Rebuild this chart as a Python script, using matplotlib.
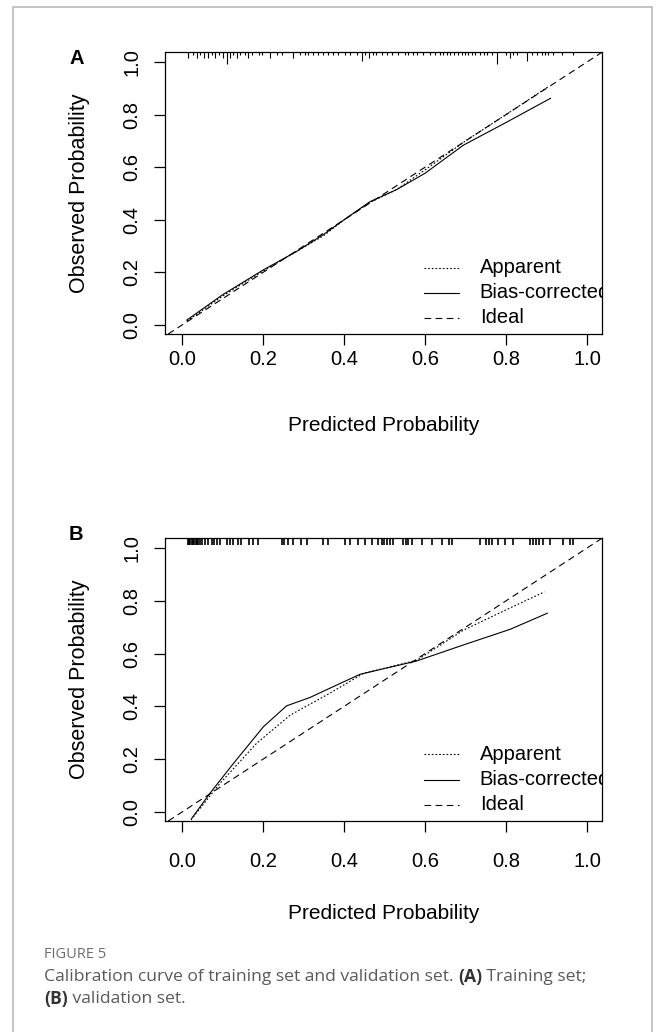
import matplotlib
matplotlib.use("Agg")
import matplotlib.pyplot as plt
from matplotlib.transforms import blended_transform_factory
from matplotlib.patches import Rectangle

plt.rcParams['font.family'] = ['Liberation Sans', 'DejaVu Sans']

# calibration curves, training set (A)
train_app_x = [0.012, 0.10, 0.20, 0.283, 0.35, 0.40, 0.464, 0.53, 0.60, 0.70, 0.80, 0.904]
train_app_y = [0.015, 0.11, 0.205, 0.280, 0.34, 0.40, 0.466, 0.515, 0.59, 0.70, 0.80, 0.906]
train_bc_x = [0.012, 0.10, 0.20, 0.283, 0.35, 0.40, 0.464, 0.53, 0.60, 0.695, 0.80, 0.91]
train_bc_y = [0.019, 0.115, 0.209, 0.280, 0.345, 0.40, 0.469, 0.515, 0.577, 0.684, 0.77, 0.862]

# calibration curves, validation set (B)
valid_app_x = [0.022, 0.094, 0.184, 0.267, 0.365, 0.448, 0.58, 0.695, 0.81, 0.895]
valid_app_y = [-0.03, 0.109, 0.26, 0.367, 0.45, 0.525, 0.575, 0.689, 0.773, 0.834]
valid_bc_x = [0.024, 0.069, 0.127, 0.201, 0.258, 0.316, 0.382, 0.44, 0.579, 0.695, 0.81, 0.902]
valid_bc_y = [-0.024, 0.071, 0.184, 0.323, 0.402, 0.434, 0.481, 0.522, 0.572, 0.633, 0.692, 0.753]

ideal_x = [0, 1]
ideal_y = [0, 1]

# distribution of predicted values (rug on top axis) with frequencies
rug_a_x = [0.016, 0.026, 0.036, 0.044, 0.055, 0.065, 0.073, 0.081, 0.091, 0.100,
           0.110, 0.119, 0.127, 0.135, 0.143, 0.156, 0.164, 0.174, 0.189, 0.197,
           0.217, 0.234, 0.246, 0.275, 0.291, 0.304, 0.312, 0.324, 0.337, 0.349,
           0.361, 0.374, 0.386, 0.402, 0.415, 0.431, 0.444, 0.452, 0.462, 0.472,
           0.478, 0.493, 0.505, 0.518, 0.534, 0.551, 0.559, 0.571, 0.579, 0.596,
           0.612, 0.625, 0.637, 0.645, 0.654, 0.662, 0.672, 0.682, 0.691, 0.699,
           0.707, 0.715, 0.723, 0.736, 0.746, 0.752, 0.765, 0.777, 0.800, 0.810,
           0.818, 0.826, 0.851, 0.863, 0.876, 0.888, 0.896, 0.904, 0.917, 0.938, 0.966]
rug_a_n = [2, 1, 2, 1, 2, 2, 1, 2, 1, 2,
           4, 2, 1, 2, 1, 1, 2, 1, 1, 1,
           2, 1, 1, 2, 1, 1, 1, 1, 1, 1,
           1, 1, 1, 1, 1, 1, 3, 1, 2, 1,
           1, 1, 1, 1, 1, 1, 1, 1, 1, 1,
           1, 1, 1, 1, 1, 1, 1, 1, 1, 1,
           1, 1, 1, 1, 1, 1, 1, 4, 1, 2,
           1, 1, 3, 1, 1, 1, 1, 1, 1, 1, 1]

rug_b_x = [0.014, 0.017, 0.020, 0.024, 0.027, 0.030, 0.034, 0.037, 0.040, 0.044,
           0.050, 0.057, 0.063, 0.073, 0.080, 0.086, 0.094, 0.110, 0.118, 0.127,
           0.139, 0.146, 0.165, 0.176, 0.187, 0.246, 0.253, 0.261, 0.275, 0.295,
           0.308, 0.349, 0.361, 0.402, 0.415, 0.435, 0.452, 0.468, 0.485, 0.493,
           0.499, 0.505, 0.514, 0.520, 0.546, 0.553, 0.559, 0.567, 0.592, 0.617,
           0.641, 0.658, 0.666, 0.736, 0.751, 0.759, 0.765, 0.781, 0.798, 0.818,
           0.859, 0.867, 0.874, 0.882, 0.892, 0.909, 0.941, 0.958, 0.966]

ticks = [0.0, 0.2, 0.4, 0.6, 0.8, 1.0]
tick_labels = ['0.0', '0.2', '0.4', '0.6', '0.8', '1.0']
legend_labels = ['Apparent', 'Bias-corrected', 'Ideal']

W, H = 658, 1032


def box(left, top, right, bottom):
    return [left / W, 1 - bottom / H, (right - left) / W, (bottom - top) / H]


DOT = (0, (1.5, 1.8))
DASH = (0, (6.0, 4.0))


def calib_panel(ax, app_x, app_y, bc_x, bc_y, rug_x, rug_len, rug_lw,
                xpad, xlabelpad):
    ax.axline((ideal_x[0], ideal_y[0]), (ideal_x[1], ideal_y[1]),
              color='black', lw=0.8, linestyle=DASH)
    ax.plot(app_x, app_y, color='black', lw=0.8, linestyle=DOT)
    ax.plot(bc_x, bc_y, color='black', lw=0.8)

    trans = blended_transform_factory(ax.transData, ax.transAxes)
    ax.vlines(rug_x, [1 - l for l in rug_len], 1, transform=trans,
              color='black', lw=rug_lw)

    ax.set_xlim(-0.042, 1.037)
    ax.set_ylim(-0.034, 1.038)
    ax.set_xticks(ticks)
    ax.set_xticklabels(tick_labels)
    ax.set_yticks(ticks)
    ax.set_yticklabels(tick_labels, rotation=90, va='center')
    ax.tick_params(direction='out', length=8, width=0.9, labelsize=14.5, color='black')
    ax.tick_params(axis='x', pad=xpad)
    ax.tick_params(axis='y', pad=9)
    for sp in ax.spines.values():
        sp.set_linewidth(0.9)
    ax.set_xlabel('Predicted Probability', fontsize=15, labelpad=xlabelpad)
    ax.set_ylabel('Observed Probability', fontsize=15.5, labelpad=23)

    # legend drawn inside the plot region, clipped at the right edge
    styles = [DOT, '-', DASH]
    for i, (lab, ls) in enumerate(zip(legend_labels, styles)):
        yy = 0.235 - i * 0.089
        ax.plot([0.592, 0.672], [yy, yy], transform=ax.transAxes,
                color='black', lw=0.8, linestyle=ls)
        ax.text(0.72, yy, lab, transform=ax.transAxes, fontsize=14.5,
                va='center', ha='left', clip_on=True)


fig = plt.figure(figsize=(W / 100, H / 100), dpi=100)

frame = Rectangle((13 / W, -0.05), (652 - 13) / W, 1.05 - 7 / H,
                  transform=fig.transFigure, fill=False,
                  edgecolor='#b4b4b4', lw=1.1)
fig.patches.append(frame)

ax_a = fig.add_axes(box(165, 52, 602, 334))
calib_panel(ax_a, train_app_x, train_app_y, train_bc_x, train_bc_y,
            rug_a_x, [0.0105 * n for n in rug_a_n], 0.8, 3.5, 34)
ax_b = fig.add_axes(box(165, 538, 602, 821))
calib_panel(ax_b, valid_app_x, valid_app_y, valid_bc_x, valid_bc_y,
            rug_b_x, [0.025] * len(rug_b_x), 1.2, 14, 24)

fig.text(77 / W, 1 - 58 / H, 'A', fontsize=14.5, fontweight='bold',
         ha='center', va='center')
fig.text(76 / W, 1 - 535 / H, 'B', fontsize=14.5, fontweight='bold',
         ha='center', va='center')

# caption
cap_font = ['Open Sans', 'DejaVu Sans']
fig.text(44 / W, 1 - 955 / H, 'FIGURE 5', fontsize=10.5, color='#6e6e6e',
         family=cap_font, va='center')

renderer = fig.canvas.get_renderer()


def caption_line(x_px, y_px, runs):
    x = x_px / W
    for txt, weight in runs:
        col = '#333333' if weight == 'bold' else '#5a5a5a'
        t = fig.text(x, 1 - y_px / H, txt, fontsize=12.6, color=col,
                     family=cap_font, fontweight=weight, va='center')
        x += t.get_window_extent(renderer).width / fig.bbox.width


caption_line(44, 977, [('Calibration curve of training set and validation set. ', 'normal'),
                       ('(A)', 'bold'), (' Training set;', 'normal')])
caption_line(44, 999, [('(B)', 'bold'), (' validation set.', 'normal')])

fig.savefig('out.png', dpi=100)
